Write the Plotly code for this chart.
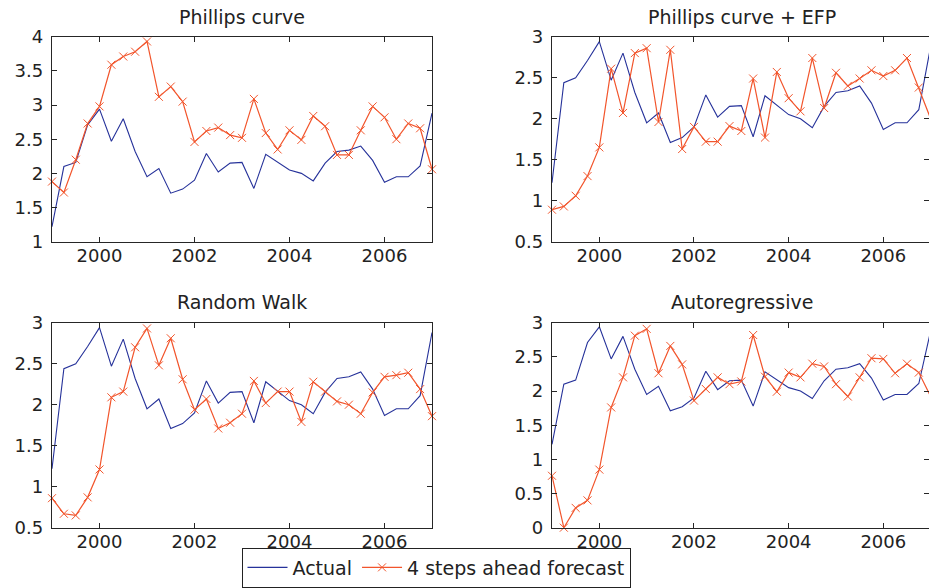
import plotly.graph_objects as go

# Quarterly time axis 1999Q1 .. 2007Q1
quarters = [1999 + 0.25 * i for i in range(33)]

# Actual inflation (as drawn in each panel)
actual_pc = [1.22, 2.10, 2.16, 2.71, 2.94, 2.47, 2.80, 2.32, 1.95, 2.07, 1.71, 1.77, 1.90,
             2.29, 2.02, 2.15, 2.16, 1.78, 2.28, 2.17, 2.05, 2.00, 1.89, 2.15, 2.32, 2.34,
             2.40, 2.19, 1.87, 1.95, 1.95, 2.11, 2.88]
actual_efp = [1.22, 2.44, 2.50, 2.71, 2.94, 2.47, 2.80, 2.32, 1.95, 2.07, 1.71, 1.77, 1.90,
              2.29, 2.02, 2.15, 2.16, 1.78, 2.28, 2.17, 2.05, 2.00, 1.89, 2.15, 2.32, 2.34,
              2.40, 2.19, 1.87, 1.95, 1.95, 2.11, 2.88]
actual_rw = [1.22, 2.44, 2.50, 2.71, 2.94, 2.47, 2.80, 2.32, 1.95, 2.07, 1.71, 1.77, 1.90,
             2.29, 2.02, 2.15, 2.16, 1.78, 2.28, 2.17, 2.05, 2.00, 1.89, 2.15, 2.32, 2.34,
             2.40, 2.19, 1.87, 1.95, 1.95, 2.11, 2.88]
actual_ar = [1.22, 2.10, 2.16, 2.71, 2.94, 2.47, 2.80, 2.32, 1.95, 2.07, 1.71, 1.77, 1.90,
             2.29, 2.02, 2.15, 2.16, 1.78, 2.28, 2.17, 2.05, 2.00, 1.89, 2.15, 2.32, 2.34,
             2.40, 2.19, 1.87, 1.95, 1.95, 2.11, 2.88]

# 4 steps ahead forecasts
fc_pc = [1.88, 1.72, 2.20, 2.73, 2.98, 3.59, 3.71, 3.78, 3.93, 3.12, 3.27, 3.05, 2.46,
         2.62, 2.67, 2.56, 2.52, 3.09, 2.59, 2.35, 2.63, 2.49, 2.84, 2.69, 2.27, 2.27,
         2.63, 2.98, 2.82, 2.50, 2.73, 2.66, 2.06]
fc_efp = [0.89, 0.93, 1.06, 1.30, 1.65, 2.61, 2.07, 2.80, 2.86, 1.96, 2.84, 1.63, 1.90,
          1.72, 1.72, 1.91, 1.85, 2.49, 1.77, 2.57, 2.25, 2.09, 2.74, 2.13, 2.56, 2.40,
          2.49, 2.59, 2.52, 2.59, 2.74, 2.38, 2.00]
fc_rw = [0.86, 0.67, 0.65, 0.87, 1.21, 2.09, 2.16, 2.70, 2.93, 2.48, 2.81, 2.31, 1.94,
         2.07, 1.71, 1.78, 1.89, 2.29, 2.02, 2.16, 2.16, 1.79, 2.28, 2.16, 2.04, 2.00,
         1.89, 2.15, 2.34, 2.36, 2.39, 2.19, 1.86]
fc_ar = [0.76, 0.00, 0.29, 0.40, 0.85, 1.76, 2.20, 2.81, 2.91, 2.26, 2.66, 2.39, 1.86,
         2.03, 2.20, 2.10, 2.14, 2.82, 2.21, 1.99, 2.27, 2.20, 2.40, 2.36, 2.10, 1.92,
         2.20, 2.48, 2.47, 2.26, 2.40, 2.27, 1.92]

titles = ["Phillips curve", "Phillips curve + EFP", "Random Walk", "Autoregressive"]
x_ticks = [2000, 2002, 2004, 2006]

BLUE = "#26329a"
RED = "#f2552c"
AX = "#262626"
FONT = "DejaVu Sans"

panels = [
    (actual_pc, fc_pc, "x", "y"),
    (actual_efp, fc_efp, "x2", "y2"),
    (actual_rw, fc_rw, "x3", "y3"),
    (actual_ar, fc_ar, "x4", "y4"),
]

fig = go.Figure()
for i, (act, fc, xa, ya) in enumerate(panels):
    fig.add_trace(go.Scatter(x=quarters, y=act, mode="lines", name="Actual",
                             line=dict(color=BLUE, width=1.1), xaxis=xa, yaxis=ya,
                             showlegend=(i == 0), legendrank=1))
    fig.add_trace(go.Scatter(x=quarters, y=fc, mode="lines+markers",
                             name="4 steps ahead forecast",
                             line=dict(color=RED, width=1.2),
                             marker=dict(symbol="x-thin", size=8,
                                         line=dict(color=RED, width=1)),
                             cliponaxis=False, xaxis=xa, yaxis=ya,
                             showlegend=(i == 0), legendrank=2))

W, H = 929, 588
left_dom = [52 / W, 432 / W]
right_dom = [552 / W, 1.0]
right_end = 1999 + (W - 552) / 47.33
top_dom = [1 - 241.7 / H, 1 - 36.7 / H]
bot_dom = [1 - 527.7 / H, 1 - 322.7 / H]

common = dict(showline=True, linecolor=AX, linewidth=1.3, mirror="ticks",
              ticks="inside", ticklen=5, tickwidth=1, tickcolor=AX,
              showgrid=False, zeroline=False, automargin=False,
              tickfont=dict(family=FONT, size=18, color="#222"))

def xax(dom, anchor, rng):
    d = dict(common)
    d.update(domain=dom, anchor=anchor, range=rng, tickvals=x_ticks,
             ticktext=[str(t) for t in x_ticks], ticklabelstandoff=-2)
    return d

def yax(dom, anchor, rng):
    d = dict(common)
    d.update(domain=dom, anchor=anchor, range=rng, dtick=0.5, tick0=0,
             ticklabelstandoff=4)
    return d

fig.update_layout(
    width=W, height=H,
    margin=dict(l=0, r=0, t=0, b=0, autoexpand=False),
    paper_bgcolor="white", plot_bgcolor="white",
    font=dict(family=FONT, size=18, color="#222"),
    xaxis=xax(left_dom, "y", [1999, 2007]),
    yaxis=yax(top_dom, "x", [1, 4]),
    xaxis2=xax(right_dom, "y2", [1999, right_end]),
    yaxis2=yax(top_dom, "x2", [0.5, 3]),
    xaxis3=xax(left_dom, "y3", [1999, 2007]),
    yaxis3=yax(bot_dom, "x3", [0.5, 3]),
    xaxis4=xax(right_dom, "y4", [1999, right_end]),
    yaxis4=yax(bot_dom, "x4", [0, 3]),
    legend=dict(orientation="h", x=436 / W, xanchor="center",
                y=0.5 / H, yanchor="bottom", itemwidth=40,
                bordercolor="#222", borderwidth=1, bgcolor="white",
                font=dict(family=FONT, size=19, color="#222")),
)

title_pos = [
    ((left_dom[0] + left_dom[1]) / 2, 1 - 17 / H),
    ((552 / W + 931 / W) / 2, 1 - 17 / H),
    ((left_dom[0] + left_dom[1]) / 2, 1 - 302 / H),
    ((552 / W + 931 / W) / 2, 1 - 302 / H),
]
for t, (tx, ty) in zip(titles, title_pos):
    fig.add_annotation(text=t, x=tx, y=ty, xref="paper", yref="paper",
                       xanchor="center", yanchor="middle", showarrow=False,
                       font=dict(family=FONT, size=19, color="#222"))

fig.write_html("out.html",
               config={"displayModeBar": False},
               post_script="document.body.style.margin='0px';"
                           "document.body.style.overflow='hidden';")
